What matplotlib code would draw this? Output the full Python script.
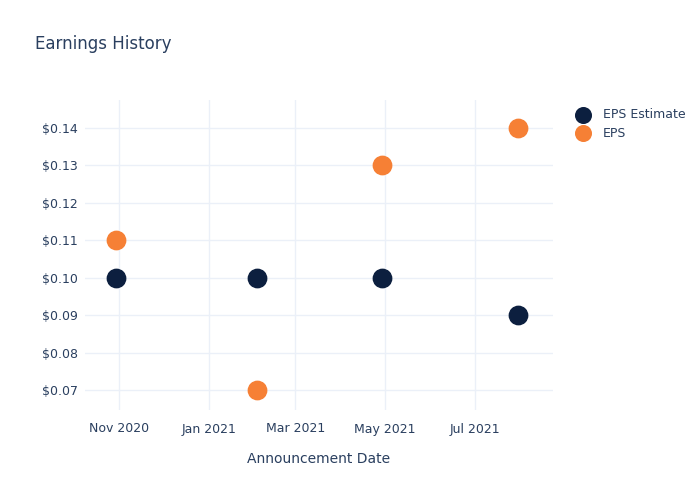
import matplotlib
matplotlib.use('Agg')
import matplotlib.pyplot as plt
import matplotlib.dates as mdates
from matplotlib.ticker import FuncFormatter
import numpy as np

dates = np.array(['2020-10-30', '2021-02-03', '2021-04-29', '2021-07-30'], dtype='datetime64[D]')
eps_estimate = [0.10, 0.10, 0.10, 0.09]
eps_actual = [0.11, 0.07, 0.13, 0.14]

txt = '#2a3f5f'
grid = '#ebf0f8'

fig = plt.figure(figsize=(7, 5), dpi=100)
ax = fig.add_axes([85/700, 90/500, (553-85)/700, (410-100)/500])

ax.scatter(dates, eps_estimate, s=175, color='#0c1f3f', label='EPS Estimate', zorder=3)
ax.scatter(dates, eps_actual, s=175, color='#f68035', label='EPS', zorder=3)

ax.set_xlim(np.datetime64('2020-10-09'), np.datetime64('2021-08-23'))
ax.set_ylim(0.0648, 0.1474)
ax.set_yticks([0.07, 0.08, 0.09, 0.10, 0.11, 0.12, 0.13, 0.14])
ax.yaxis.set_major_formatter(FuncFormatter(lambda v, p: '$%.2f' % v))
ax.xaxis.set_major_locator(mdates.MonthLocator(bymonth=[1, 3, 5, 7, 11]))
ax.xaxis.set_major_formatter(mdates.DateFormatter('%b %Y'))

ax.grid(True, color=grid, linewidth=1)
ax.set_axisbelow(True)
for s in ax.spines.values():
    s.set_visible(False)
ax.tick_params(length=0, labelsize=9, labelcolor=txt)
ax.tick_params(axis='y', pad=5)
ax.tick_params(axis='x', pad=9)

ax.set_xlabel('Announcement Date', fontsize=10, color=txt, labelpad=12)
fig.text(35/700, 1 - 44/500, 'Earnings History', fontsize=12, color=txt, va='center')

leg = ax.legend(loc='upper left', bbox_to_anchor=(1.027, 0.99), frameon=False,
                fontsize=9, labelcolor=txt, handletextpad=0.55, borderaxespad=0,
                markerscale=0.85, labelspacing=0.45)

fig.savefig('out.png', dpi=100)
